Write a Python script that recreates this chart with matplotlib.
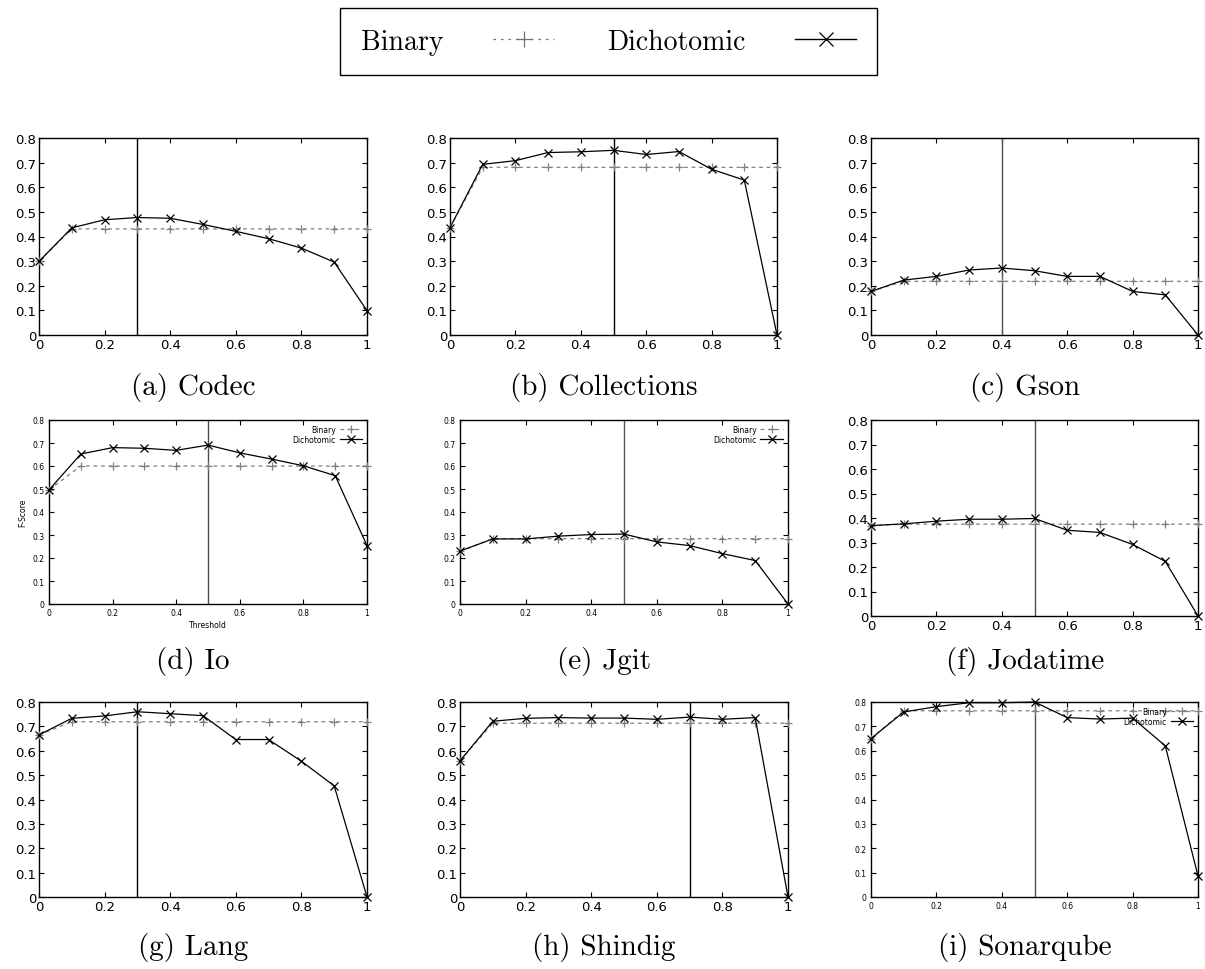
import matplotlib
matplotlib.use("Agg")
import matplotlib.pyplot as plt
from matplotlib.lines import Line2D

W, H = 1205, 970

thresholds = [0.0, 0.1, 0.2, 0.3, 0.4, 0.5, 0.6, 0.7, 0.8, 0.9, 1.0]
x_ticks = [0, 0.2, 0.4, 0.6, 0.8, 1.0]
x_tick_labels = ["0", "0.2", "0.4", "0.6", "0.8", "1"]
y_ticks = [0, 0.1, 0.2, 0.3, 0.4, 0.5, 0.6, 0.7, 0.8]
y_tick_labels = ["0", "0.1", "0.2", "0.3", "0.4", "0.5", "0.6", "0.7", "0.8"]

captions = ["(a) Codec", "(b) Collections", "(c) Gson",
            "(d) Io", "(e) Jgit", "(f) Jodatime",
            "(g) Lang", "(h) Shindig", "(i) Sonarqube"]

best_threshold = [0.3, 0.5, 0.4, 0.5, 0.5, 0.5, 0.3, 0.7, 0.5]

binary = [
    [0.299, 0.431, 0.431, 0.431, 0.431, 0.431, 0.431, 0.431, 0.431, 0.431, 0.431],
    [0.436, 0.681, 0.681, 0.681, 0.681, 0.681, 0.681, 0.681, 0.681, 0.681, 0.681],
    [0.177, 0.218, 0.218, 0.218, 0.218, 0.218, 0.218, 0.218, 0.218, 0.218, 0.218],
    [0.496, 0.600, 0.600, 0.600, 0.600, 0.600, 0.600, 0.600, 0.600, 0.600, 0.600],
    [0.230, 0.284, 0.284, 0.284, 0.284, 0.284, 0.284, 0.284, 0.284, 0.284, 0.284],
    [0.369, 0.375, 0.375, 0.375, 0.375, 0.375, 0.375, 0.375, 0.375, 0.375, 0.375],
    [0.665, 0.719, 0.719, 0.719, 0.719, 0.719, 0.719, 0.719, 0.719, 0.719, 0.719],
    [0.559, 0.713, 0.713, 0.713, 0.713, 0.713, 0.713, 0.713, 0.713, 0.713, 0.713],
    [0.650, 0.764, 0.764, 0.764, 0.764, 0.764, 0.764, 0.764, 0.764, 0.764, 0.764],
]

dichotomic = [
    [0.299, 0.435, 0.468, 0.477, 0.474, 0.449, 0.421, 0.391, 0.353, 0.296, 0.099],
    [0.436, 0.693, 0.708, 0.741, 0.744, 0.750, 0.733, 0.745, 0.673, 0.629, 0.0],
    [0.177, 0.223, 0.238, 0.264, 0.272, 0.261, 0.238, 0.238, 0.177, 0.163, 0.0],
    [0.496, 0.652, 0.680, 0.677, 0.668, 0.691, 0.657, 0.630, 0.601, 0.558, 0.254],
    [0.230, 0.283, 0.283, 0.295, 0.302, 0.304, 0.270, 0.254, 0.219, 0.189, 0.0],
    [0.369, 0.376, 0.387, 0.395, 0.395, 0.398, 0.350, 0.341, 0.292, 0.223, 0.0],
    [0.665, 0.733, 0.743, 0.760, 0.752, 0.744, 0.646, 0.646, 0.557, 0.456, 0.0],
    [0.559, 0.721, 0.733, 0.736, 0.734, 0.734, 0.729, 0.738, 0.729, 0.736, 0.0],
    [0.650, 0.759, 0.781, 0.797, 0.797, 0.800, 0.736, 0.730, 0.734, 0.620, 0.086],
]

# pixel boxes (left, top, right, bottom) of each plot area
boxes = [
    (39, 139, 367, 336), (450, 139, 777, 336), (871, 139, 1198, 336),
    (49, 421, 367, 605), (460, 421, 788, 605), (871, 421, 1198, 617),
    (39, 703, 367, 898), (460, 703, 788, 898), (871, 703, 1198, 898),
]
small_style = [False, False, False, True, True, False, False, False, True]
vline_color = ["black", "black", "0.3", "0.3", "0.35", "0.3", "black", "black", "0.3"]
caption_x = [193, 604, 1025]
caption_y = [388, 662, 948]

fig = plt.figure(figsize=(W / 100, H / 100), dpi=100)

for i, (l, t, r, b) in enumerate(boxes):
    ax = fig.add_axes([l / W, 1 - b / H, (r - l) / W, (b - t) / H])
    small = small_style[i]
    ax.plot(thresholds, binary[i], color="0.5", ls=(0, (3, 3)), lw=0.9,
            marker="+", ms=6, mew=0.9, clip_on=False, label="Binary", zorder=3)
    ax.plot(thresholds, dichotomic[i], color="black", lw=0.9,
            marker="x", ms=6, mew=0.9, clip_on=False, label="Dichotomic", zorder=4)
    ax.axvline(best_threshold[i], color=vline_color[i], lw=1.0, zorder=2)
    ax.set_xlim(0, 1)
    ax.set_ylim(0, 0.8)
    ax.set_xticks(x_ticks, x_tick_labels)
    ax.set_yticks(y_ticks, y_tick_labels)
    fs = 5.5 if small else 9.5
    ax.tick_params(direction="in", top=True, right=True, length=3.5,
                   width=0.8, labelsize=fs, pad=3 if small else 2)
    for sp in ax.spines.values():
        sp.set_linewidth(1.0)
    if small:
        ax.legend(loc="upper right", frameon=False, markerfirst=False,
                  fontsize=5.5, handlelength=3.0, borderaxespad=0.2,
                  labelspacing=0.2, handletextpad=0.5)
    if i == 3:
        ax.set_ylabel("F-Score", fontsize=5.5)
        ax.set_xlabel("Threshold", fontsize=5.5, labelpad=2)
    row, col = divmod(i, 3)
    fig.text(caption_x[col] / W, 1 - caption_y[row] / H, captions[i],
             family="cmr10", fontsize=21, ha="center", va="center")

handles = [
    Line2D([], [], color="0.45", ls=(0, (2, 4)), lw=0.9, marker="+", ms=11, mew=0.9),
    Line2D([], [], color="black", lw=1.0, marker="x", ms=10, mew=0.9),
]
leg = fig.legend(handles, ["Binary", "Dichotomic"], loc="center",
                 bbox_to_anchor=(608.5 / W, 1 - 42.5 / H), ncol=2,
                 markerfirst=False, prop={"family": "cmr10", "size": 20},
                 fancybox=False, edgecolor="black", framealpha=1,
                 handlelength=2.2, columnspacing=1.9, handletextpad=1.8,
                 borderpad=0.75)
leg.get_frame().set_linewidth(1.0)

fig.savefig("out.png", dpi=100)
